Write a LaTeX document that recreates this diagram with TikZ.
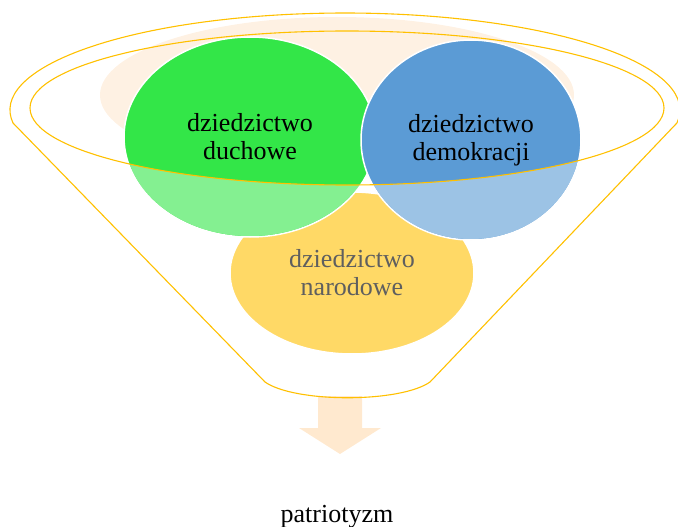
\documentclass[tikz,border=0pt]{standalone}
\usepackage{fontspec}
\setmainfont{Liberation Serif}
\usepackage{xcolor}
\usepackage{tikz}
\usetikzlibrary{shapes.geometric}

\definecolor{rimline}{HTML}{FFC000}
\definecolor{peach}{HTML}{FEF1E3}
\definecolor{arrowfill}{HTML}{FFE9CF}
\definecolor{greenfill}{HTML}{33E648}
\definecolor{bluefill}{HTML}{5B9BD5}
\definecolor{yellowfill}{HTML}{FFD966}
\definecolor{graytext}{HTML}{5F5F5F}

\begin{document}
\begin{tikzpicture}[
      x=1pt, y=-1pt,
      blob/.style={ellipse, draw=white, line width=1.5pt, inner sep=0pt, align=center, font=\fontsize{26}{28}\selectfont},
      rim/.style={draw=rimline, line width=1.1pt},
      wash/.style={white, opacity=0.4}
    ]
    \useasboundingbox (0,0) rectangle (678,527);
    \clip (0,0) rectangle (678,527);
    \coordinate (ringc) at (347,108);

    % background blob and output arrow
    \fill[peach] (337,95) ellipse [x radius=237, y radius=78];
    \fill[arrowfill] (318,396) -- (362,396) -- (362,428) -- (381,428) -- (340,454) -- (299,428) -- (318,428) -- cycle;

    % the three circles
    \node[blob, fill=yellowfill, text=graytext, minimum width=244pt, minimum height=162pt] (narod) at (352,273) {dziedzictwo\\narodowe};
    \node[blob, fill=greenfill, minimum width=252pt, minimum height=200pt] (duch) at (250,137) {dziedzictwo\\duchowe};
    \begin{scope}
      \clip (duch.center) ellipse [x radius=125, y radius=99];
      \fill[wash, even odd rule] (0,0) rectangle (678,527) (ringc) ellipse [x radius=317, y radius=77];
    \end{scope}
    \node[blob, fill=bluefill, minimum width=220pt, minimum height=200pt] (demo) at (471,140) {dziedzictwo\\demokracji};
    \begin{scope}
      \clip (demo.center) ellipse [x radius=109, y radius=99];
      \fill[wash, even odd rule] (0,0) rectangle (678,527) (ringc) ellipse [x radius=317, y radius=77];
    \end{scope}

    % funnel
    \draw[rim] (ringc) ellipse [x radius=317, y radius=77];
    \draw[rim] (13,123) arc [start angle=172.3, end angle=367.7, x radius=335, y radius=97]
      -- (430,382) .. controls (400,403) and (295,403) .. (265,382) -- cycle;

    \node[font=\fontsize{26}{28}\selectfont, anchor=base] (patr) at (337,522) {patriotyzm};
  \end{tikzpicture}
\end{document}
